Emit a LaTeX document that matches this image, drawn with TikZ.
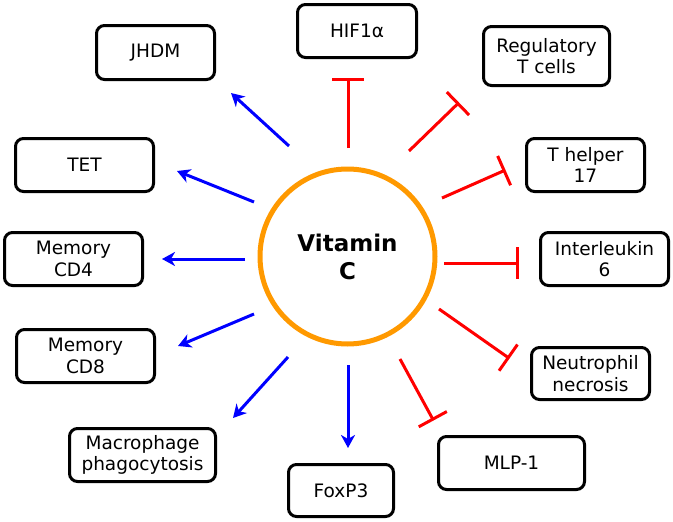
\documentclass[tikz,border=0pt]{standalone}
\usepackage{fontspec}
\setmainfont{DejaVu Sans}
\usepackage{tikz}
\usetikzlibrary{arrows.meta}
\definecolor{vcorange}{RGB}{255,153,0}
\definecolor{actblue}{RGB}{0,0,255}
\definecolor{inhred}{RGB}{255,0,0}

\begin{document}
\begin{tikzpicture}[x=1pt,y=-1pt,
  box/.style={draw,line width=3pt,rounded corners=8pt,align=center,inner sep=0pt,font=\fontsize{18.5}{21.5}\selectfont},
  act/.style={actblue,line width=3pt,-{Stealth[length=13pt,width=14pt,inset=4pt]}},
  inh/.style={inhred,line width=3pt,-{Bar[width=32pt]}}]
\useasboundingbox (0,0) rectangle (673,522);
\node[circle,draw=vcorange,line width=5pt,minimum size=175pt,align=center,font=\bfseries\fontsize{23}{28}\selectfont] (vc) at (347.5,256.5) {Vitamin\\C};
\node[box,minimum width=118pt,minimum height=54pt] (jhdm) at (155.5,52.5) {JHDM};
\node[box,minimum width=119pt,minimum height=53pt] (hif) at (357,31) {HIF1α};
\node[box,minimum width=126pt,minimum height=59pt] (treg) at (546.5,56) {Regulatory\\T cells};
\node[box,minimum width=118pt,minimum height=53pt] (th17) at (585.5,165) {T helper\\17};
\node[box,minimum width=138pt,minimum height=53pt] (tet) at (84.5,165) {TET};
\node[box,minimum width=138pt,minimum height=53pt] (cd4) at (73.5,259) {Memory\\CD4};
\node[box,minimum width=128pt,minimum height=53pt] (il6) at (604.5,259) {Interleukin\\6};
\node[box,minimum width=138pt,minimum height=53pt] (cd8) at (85.5,356) {Memory\\CD8};
\node[box,minimum width=118pt,minimum height=52pt] (neut) at (590.5,373.5) {Neutrophil\\necrosis};
\node[box,minimum width=146pt,minimum height=53pt] (macro) at (142.5,455) {Macrophage\\phagocytosis};
\node[box,minimum width=105pt,minimum height=52pt] (foxp3) at (341,490.5) {FoxP3};
\node[box,minimum width=146pt,minimum height=53pt] (mlp) at (511.5,463) {MLP-1};
\foreach \n/\s/\e in {jhdm/{289,146}/{231,93},tet/{254,202}/{177,171},cd4/{245,259}/{162,259},
  cd8/{254,314}/{178,346},macro/{288,357}/{233,418},foxp3/{348,365}/{348,448}}{
  \coordinate (\n-s) at (\s); \coordinate (\n-e) at (\e);
  \draw[act] (\n-s) -- (\n-e);}
\foreach \n/\s/\e in {hif/{348,148}/{348,78},treg/{409,151}/{459,102.5},th17/{442,198}/{505.5,170},
  il6/{444,263}/{519,263},neut/{439,309}/{509.5,358.5},mlp/{400,359}/{433.5,420.5}}{
  \coordinate (\n-s) at (\s); \coordinate (\n-e) at (\e);
  \draw[inh] (\n-s) -- (\n-e);}
\end{tikzpicture}
\end{document}
